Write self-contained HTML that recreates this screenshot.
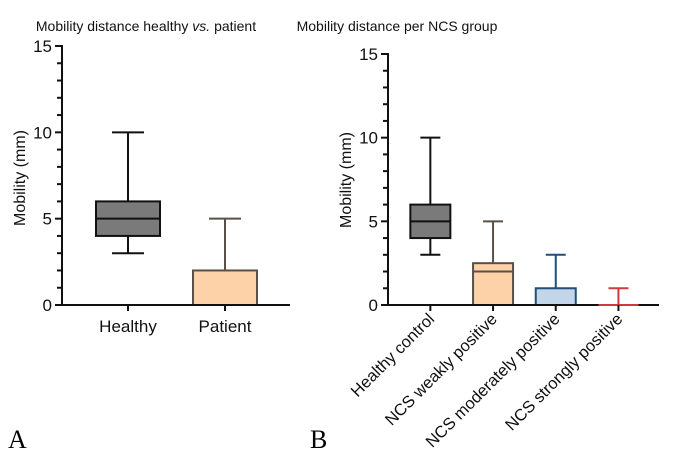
<!DOCTYPE html>
<html><head><meta charset="utf-8">
<style>
html,body{margin:0;padding:0;background:#fff;}
svg{display:block;font-family:"Liberation Sans","DejaVu Sans",sans-serif;}
</style></head>
<body>
<svg id="chart" width="677" height="460" viewBox="0 0 677 460" xmlns="http://www.w3.org/2000/svg">
  <text x="146" y="31" font-size="14" text-anchor="middle" fill="#111">Mobility distance healthy <tspan font-style="italic">vs.</tspan> patient</text>
  <text x="397" y="31" font-size="14" text-anchor="middle" fill="#111">Mobility distance per NCS group</text>
  <text transform="translate(25,178) rotate(-90)" font-size="16" text-anchor="middle" fill="#111">Mobility (mm)</text>
  <text transform="translate(351,180) rotate(-90)" font-size="16" text-anchor="middle" fill="#111">Mobility (mm)</text>
  <text x="8" y="448" font-size="26" font-family="Liberation Serif,serif" fill="#000">A</text>
  <text x="310" y="448" font-size="26" font-family="Liberation Serif,serif" fill="#000">B</text>
</svg>
<script>
// Panel A data
const catsA = ["Healthy", "Patient"];
const minA = [3, 0];
const q1A = [4, 0];
const medA = [5, 0];
const q3A = [6, 2];
const maxA = [10, 5];
const fillA = ["#7a7a7a", "#fdd2a8"];
const strokeA = ["#111", "#5a5048"];
// Panel B data
const catsB = ["Healthy control", "NCS weakly positive", "NCS moderately positive", "NCS strongly positive"];
const minB = [3, 0, 0, 0];
const q1B = [4, 0, 0, 0];
const medB = [5, 2, 0, 0];
const q3B = [6, 2.5, 1, 0];
const maxB = [10, 5, 3, 1];
const fillB = ["#7a7a7a", "#fdd2a8", "#c3d5e8", "#ffffff"];
const strokeB = ["#111", "#5a5048", "#1f4e79", "#d03a3a"];
const yTicks = [0, 5, 10, 15];

const svg = document.getElementById('chart');
const NS = 'http://www.w3.org/2000/svg';
function mk(tag, attrs, parent) {
  const e = document.createElementNS(NS, tag);
  for (const k in attrs) e.setAttribute(k, attrs[k]);
  (parent || svg).appendChild(e);
  return e;
}

function panel(cfg, cats, mins, q1s, meds, q3s, maxs, fills, strokes, rotate, prefix) {
  const y = v => cfg.y0 - (v / 15) * (cfg.y0 - cfg.y15);
  const x = i => cfg.xStart + cfg.step * (i + 0.5);
  const g = mk('g', {});
  
  
  cats.forEach((c, i) => {
    const cx = x(i), hw = cfg.hw, col = strokes[i];
    const bg = mk('g', {}, g);
    
    
    mk('line', {x1: cx, x2: cx, y1: y(q3s[i]), y2: y(maxs[i]), stroke: col, 'stroke-width': 2}, bg);
    mk('line', {x1: cx - hw / 2, x2: cx + hw / 2, y1: y(maxs[i]), y2: y(maxs[i]), stroke: col, 'stroke-width': 2}, bg);
    if (mins[i] < q1s[i]) {
      mk('line', {x1: cx, x2: cx, y1: y(q1s[i]), y2: y(mins[i]), stroke: col, 'stroke-width': 2}, bg);
      mk('line', {x1: cx - hw / 2, x2: cx + hw / 2, y1: y(mins[i]), y2: y(mins[i]), stroke: col, 'stroke-width': 2}, bg);
    }
    const h = y(q1s[i]) - y(q3s[i]);
    if (h > 0) {
      mk('rect', {x: cx - hw, y: y(q3s[i]), width: 2 * hw, height: h, fill: fills[i], stroke: col, 'stroke-width': 2}, bg);
      if (meds[i] > q1s[i]) mk('line', {x1: cx - hw, x2: cx + hw, y1: y(meds[i]), y2: y(meds[i]), stroke: col, 'stroke-width': 2}, bg);
    }
  });
  const ax = mk('line', {x1: cfg.xAxis, x2: cfg.xAxis, y1: y(15) - 1, y2: y(0) + 1, stroke: '#111', 'stroke-width': 2}, g);
  
  
  for (let v = 0; v <= 15; v++) {
    const major = v % 5 === 0;
    mk('line', {x1: cfg.xAxis - (major ? 7 : 5), x2: cfg.xAxis, y1: y(v), y2: y(v), stroke: '#111', 'stroke-width': 2}, g);
  }
  yTicks.forEach(v => {
    const t = mk('text', {x: cfg.xAxis - 10, y: y(v) + 6, 'font-size': 17, 'text-anchor': 'end', fill: '#111'}, g);
    t.textContent = v;
    
    
  });
  const xa = mk('line', {x1: cfg.xAxis, x2: cfg.xEnd, y1: y(0), y2: y(0), stroke: '#111', 'stroke-width': 2}, g);
  
  
  cats.forEach((c, i) => {
    if (q3s[i] === q1s[i]) mk('line', {x1: x(i) - cfg.hw, x2: x(i) + cfg.hw, y1: y(0), y2: y(0), stroke: strokes[i], 'stroke-width': 2}, g);
    mk('line', {x1: x(i), x2: x(i), y1: y(0), y2: y(0) + 6, stroke: '#111', 'stroke-width': 2}, g);
    let t;
    if (rotate) {
      t = mk('text', {transform: 'translate(' + (x(i) + 5) + ',' + (y(0) + 15) + ') rotate(-45)', 'font-size': 16.5, 'text-anchor': 'end', fill: '#111'}, g);
    } else {
      t = mk('text', {x: x(i), y: y(0) + 27, 'font-size': 17, 'text-anchor': 'middle', fill: '#111'}, g);
    }
    t.textContent = c;
    
    
  });
}

panel({y0: 305, y15: 46, xAxis: 62, xEnd: 290, xStart: 79.5, step: 97, hw: 32}, catsA, minA, q1A, medA, q3A, maxA, fillA, strokeA, false, 'panel-a');
panel({y0: 305, y15: 54, xAxis: 388, xEnd: 659, xStart: 399, step: 62.7, hw: 20}, catsB, minB, q1B, medB, q3B, maxB, fillB, strokeB, true, 'panel-b');
</script>
</body></html>
